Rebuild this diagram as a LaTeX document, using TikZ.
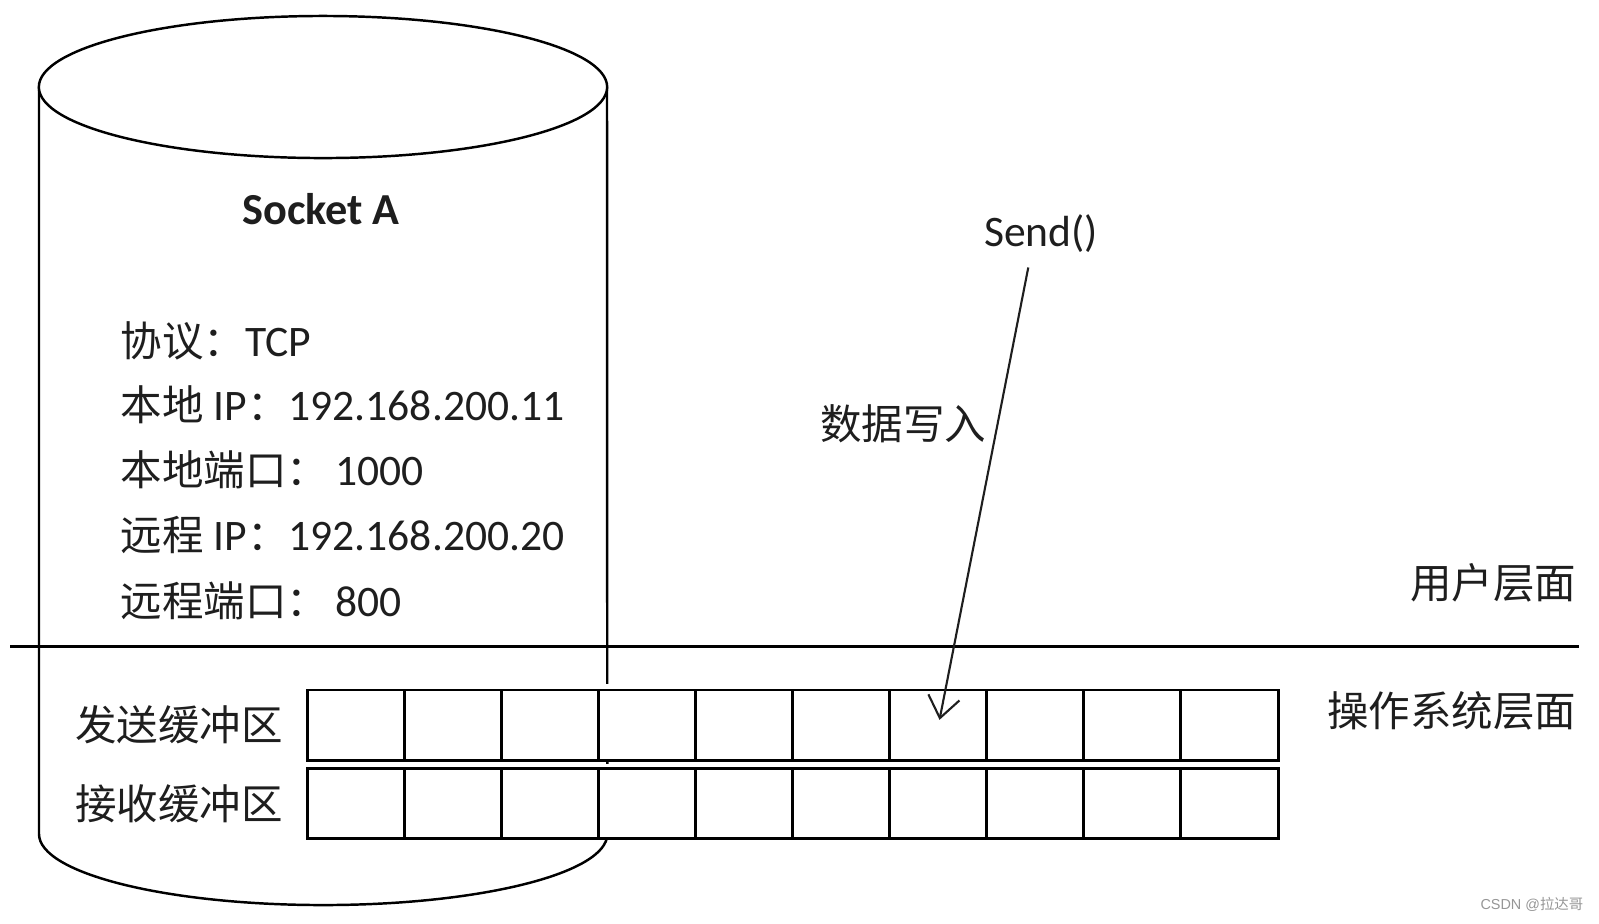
\documentclass[tikz,border=0pt]{standalone}
\usepackage{fontspec}
\setmainfont{Carlito}[Scale=1.05]
\newfontfamily\cjk{Noto Sans CJK SC}
\newfontfamily\wmfont{Liberation Sans}
\usepackage{tikz}
\usetikzlibrary{positioning,arrows.meta}
\definecolor{inkgray}{RGB}{30,30,30}
\definecolor{markgray}{RGB}{150,150,150}

\begin{document}
\begin{tikzpicture}[
  x=0.01cm, y=-0.01cm,
  txt/.style={inner sep=0pt, text=inkgray, font=\fontsize{11.8}{14}\selectfont},
  cell/.style={draw, line width=0.85pt, fill=white, inner sep=0pt, outer sep=0pt,
    minimum width=0.97cm, minimum height=0.70cm},
  arr/.style={-{Straight Barb[length=6pt, width=9pt]}, line width=0.6pt, inkgray,
    shorten >=1.5pt, shorten <=4pt}
]
  \useasboundingbox (0,0) rectangle (1599,923);

  % --- Socket A cylinder ---
  \draw[line width=0.7pt] (39,87) -- (39,834)
    arc[start angle=180, end angle=360, x radius=2.84cm, y radius=0.71cm] -- (607,87);
  \draw[line width=0.7pt, fill=white] (323,87) ellipse [x radius=2.84cm, y radius=0.71cm];
  \node[txt, font=\fontsize{12}{14}\selectfont\bfseries] (sock) at (321,209) {Socket A};

  % --- socket fields ---
  \node[txt, anchor=base west] (proto) at (120,356) {{\cjk 协议：}TCP};
  \node[txt, anchor=base west] (lip)   at (120,420) {{\cjk 本地}~IP{\cjk ：}192.168.200.11};
  \node[txt, anchor=base west] (lport) at (120,485) {{\cjk 本地端口：}\hspace{2pt}1000};
  \node[txt, anchor=base west] (rip)   at (120,550) {{\cjk 远程}~IP{\cjk ：}192.168.200.20};
  \node[txt, anchor=base west] (rport) at (120,616) {{\cjk 远程端口：}\hspace{2pt}800};

  % --- user / kernel divider ---
  \draw[line width=0.7pt] (10,646.5) -- (1579,646.5);
  \node[txt, anchor=east] (user) at (1577,583) {\cjk 用户层面};
  \node[txt, anchor=east] (kern) at (1577,711) {\cjk 操作系统层面};

  % --- send / receive buffers ---
  \fill[white] (308,684) rectangle (1278,760);
  \fill[white] (308,764) rectangle (1278,838);
  \foreach \i in {1,...,10} {
    \node[cell] (s\i) at ({308+97*(\i-0.5)},725) {};
    \node[cell] (r\i) at ({308+97*(\i-0.5)},803.5) {};
  }
  \node[txt, left=7pt of s1] (sbuf) {\cjk 发送缓冲区};
  \node[txt, left=7pt of r1] (rbuf) {\cjk 接收缓冲区};

  % --- Send() writes into the send buffer ---
  \node[txt] (send) at (1041,234) {Send()};
  \draw[arr] ([xshift=-0.1cm]send.south) -- node[txt, pos=0.36, left=3pt] (write) {\cjk 数据写入} (s7.center);

  % --- watermark ---
  \node[inner sep=0pt, anchor=east, text=markgray, font=\wmfont\fontsize{4.1}{5}\selectfont]
    (mark) at (1584,904) {CSDN @{\cjk 拉达哥}};
\end{tikzpicture}
\end{document}
